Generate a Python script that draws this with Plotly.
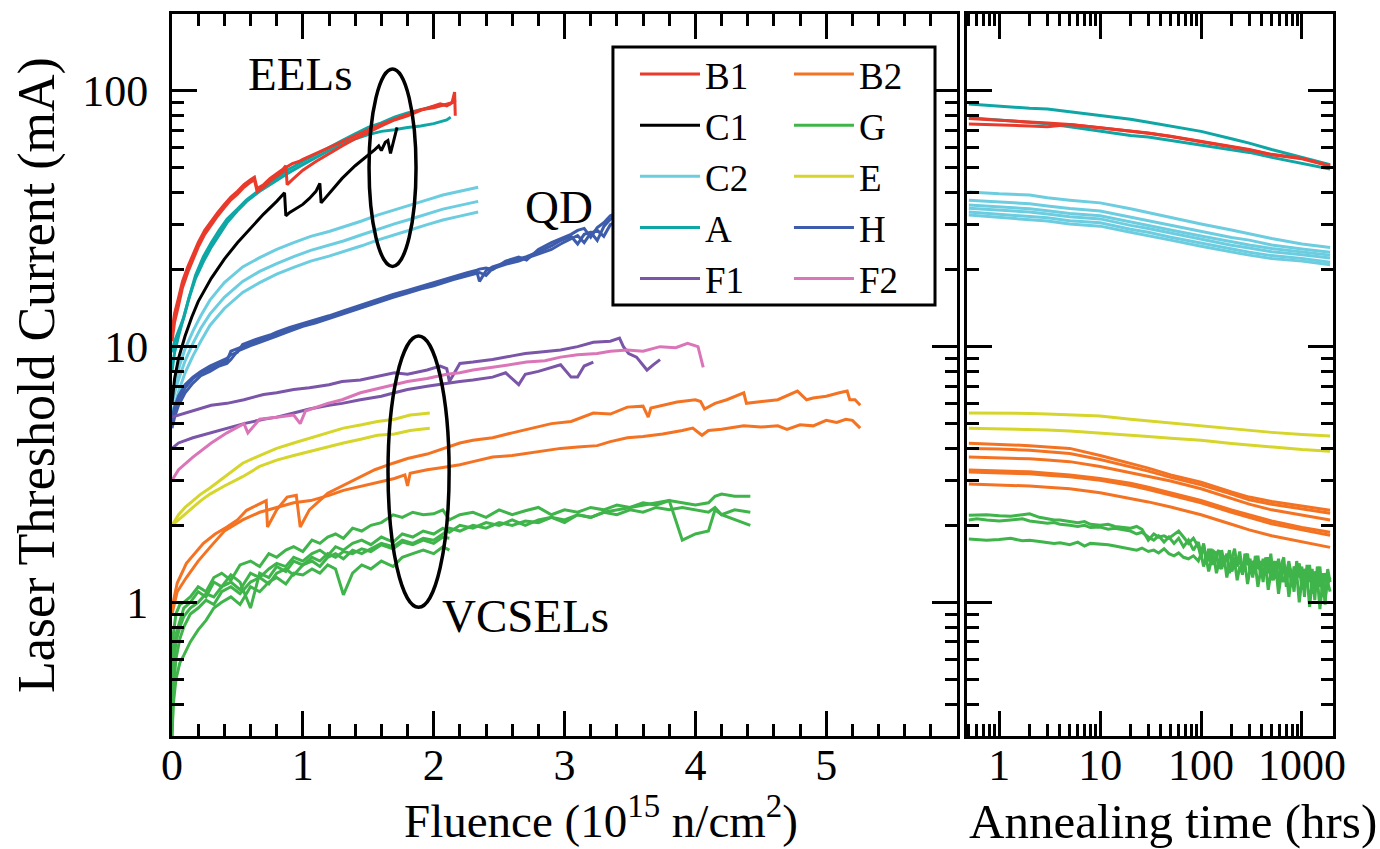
import numpy as np
import plotly.graph_objects as go

# ---------------- Left panel: threshold current vs fluence ----------------
B1_x = [0, 0.02, 0.05, 0.08, 0.12, 0.16, 0.2, 0.25, 0.3, 0.35, 0.4, 0.45, 0.5, 0.55, 0.6, 0.63, 0.65, 0.7, 0.75, 0.8,
        0.85, 0.87, 0.88, 0.92, 0.97, 1.0, 1.1, 1.2, 1.3, 1.4, 1.5, 1.6, 1.7, 1.8, 1.9, 2.0, 2.05, 2.1, 2.14, 2.16, 2.165]
B1_a = [11.5, 13.5, 15.5, 18.0, 20.5, 23.0, 25.5, 28.5, 31.0, 33.5, 36.0, 38.5, 40.5, 43.0, 45.0, 46.0, 41.5, 43.0, 45.5, 47.5,
        49.5, 51.0, 43.0, 45.0, 47.5, 49.0, 53.0, 57.0, 61.0, 65.0, 69.0, 73.0, 77.0, 80.0, 84.0, 87.0, 89.0, 87.5, 90.0, 99.0, 80.0]
B1_b = [10.5, 12.5, 14.5, 17.0, 19.5, 22.0, 24.5, 27.5, 30.0, 32.5, 35.0, 37.5, 39.5, 42.0, 44.0, 45.0, 40.5, 42.0, 44.5, 46.5,
        48.5, 50.0, 50.5, 52.0, 53.0, 54.0, 57.0, 60.0, 63.5, 67.0, 70.5, 74.0, 77.5, 81.0, 84.5, 86.0, 87.5, 88.5, 90.0, 91.0, 92.0]

C1_x = [0, 0.02, 0.05, 0.1, 0.15, 0.2, 0.3, 0.4, 0.5, 0.6, 0.7, 0.8, 0.86, 0.87, 0.9, 1.0, 1.05, 1.1, 1.13, 1.14,
        1.2, 1.3, 1.4, 1.5, 1.55, 1.58, 1.6, 1.63, 1.65, 1.67, 1.7, 1.72]
C1_y = [6.0, 7.5, 9.0, 11.0, 13.0, 15.0, 18.5, 22.0, 25.5, 29.0, 33.0, 37.0, 40.0, 32.5, 33.5, 36.0, 38.0, 40.5, 43.5, 36.5,
        39.5, 45.5, 51.0, 56.0, 59.0, 61.0, 58.5, 63.0, 64.0, 57.0, 66.0, 72.0]

A_x = [0, 0.02, 0.05, 0.09, 0.13, 0.18, 0.24, 0.3, 0.36, 0.42, 0.5, 0.57, 0.67, 0.78, 0.88, 1.0, 1.1, 1.2, 1.3, 1.4,
       1.5, 1.6, 1.7, 1.8, 1.9, 2.0, 2.1, 2.13]
A_a = [9.5, 10.5, 11.5, 13.0, 15.5, 19.0, 22.5, 25.5, 28.5, 31.5, 34.5, 37.5, 41.0, 45.0, 49.0, 53.0, 56.5, 60.5, 64.0, 68.0,
       72.0, 75.0, 79.0, 82.0, 84.5, 87.0, 88.5, 89.0]
A_b = [8.0, 9.5, 11.0, 13.0, 15.5, 18.5, 21.5, 24.5, 27.5, 30.5, 34.0, 37.0, 40.5, 44.0, 47.5, 51.5, 55.0, 58.5, 62.0, 65.0,
       67.5, 69.5, 70.5, 72.0, 73.0, 74.5, 77.0, 79.0]

C2_x = [0, 0.03, 0.06, 0.1, 0.16, 0.22, 0.29, 0.4, 0.54, 0.67, 0.8, 0.93, 1.06, 1.2, 1.31, 1.45, 1.57, 1.7, 1.82, 1.95,
        2.07, 2.2, 2.3, 2.34]
C2_a = [6.5, 7.5, 8.5, 9.8, 11.5, 13.2, 15.2, 17.8, 20.5, 22.3, 24.0, 25.5, 27.0, 28.2, 29.4, 31.0, 32.7, 34.2, 35.8, 37.5,
        39.2, 40.5, 41.5, 42.0]
C2_b = [6.0, 6.9, 7.7, 8.8, 10.3, 11.8, 13.4, 15.6, 18.0, 19.7, 21.1, 22.5, 23.8, 24.9, 25.9, 27.4, 28.8, 30.2, 31.5, 33.0,
        34.5, 35.7, 36.5, 37.0]
C2_c = [5.5, 6.2, 6.9, 7.9, 9.2, 10.5, 12.1, 14.1, 16.3, 17.8, 19.2, 20.4, 21.6, 22.6, 23.5, 24.8, 26.1, 27.3, 28.6, 30.0,
        31.3, 32.4, 33.2, 33.6]

H_x = [0, 0.02, 0.05, 0.1, 0.16, 0.22, 0.29, 0.36, 0.42, 0.45, 0.5, 0.54, 0.6, 0.67, 0.75, 0.8, 0.9, 1.0, 1.1, 1.2,
       1.31, 1.4, 1.5, 1.6, 1.69, 1.8, 1.9, 2.0, 2.07, 2.15, 2.25, 2.33, 2.35, 2.4, 2.45, 2.55, 2.65, 2.71, 2.8, 2.9,
       2.97, 3.05, 3.1, 3.15, 3.2, 3.25, 3.3, 3.35, 3.38]
H_a = [5.0, 5.6, 6.2, 6.9, 7.5, 7.9, 8.2, 8.5, 8.8, 9.6, 9.8, 10.0, 10.3, 10.6, 11.0, 11.2, 11.7, 12.1, 12.6, 13.0,
       13.6, 14.1, 14.7, 15.3, 15.8, 16.4, 17.0, 17.6, 18.0, 18.6, 19.2, 19.6, 18.0, 19.8, 20.5, 21.3, 22.0, 22.5, 23.5, 24.8,
       26.0, 27.0, 25.2, 27.5, 28.0, 26.0, 29.5, 31.5, 32.0]
H_b = [4.8, 5.3, 5.9, 6.6, 7.2, 7.7, 8.0, 8.4, 8.6, 8.9, 9.6, 9.8, 10.1, 10.4, 10.8, 11.0, 11.5, 12.0, 12.4, 12.9,
       13.4, 13.9, 14.5, 15.1, 15.6, 16.2, 16.8, 17.3, 17.8, 18.3, 18.9, 19.3, 19.5, 19.0, 20.2, 21.0, 21.6, 22.2, 23.0, 24.0,
       25.2, 26.3, 27.2, 25.5, 27.8, 28.5, 27.0, 30.0, 30.5]
H_c = [5.3, 5.8, 6.4, 7.1, 7.6, 8.0, 8.4, 8.7, 9.0, 9.3, 9.5, 10.2, 10.5, 10.8, 11.1, 11.4, 11.9, 12.3, 12.8, 13.2,
       13.8, 14.3, 14.9, 15.5, 16.0, 16.6, 17.2, 17.8, 18.2, 18.8, 19.4, 19.9, 20.1, 20.3, 20.0, 21.6, 22.4, 21.8, 24.0, 25.5,
       26.5, 27.5, 28.5, 29.0, 26.8, 29.2, 30.5, 32.5, 33.0]

F1_a_x = [0, 0.1, 0.2, 0.3, 0.42, 0.55, 0.7, 0.8, 0.93, 1.05, 1.2, 1.3, 1.44, 1.55, 1.7, 1.8, 1.95, 2.05, 2.1, 2.12,
          2.2, 2.3, 2.45, 2.6, 2.7, 2.8, 2.97, 3.1, 3.22, 3.35, 3.42, 3.45, 3.49, 3.55, 3.63, 3.68, 3.73]
F1_a_y = [5.3, 5.5, 5.7, 5.9, 6.0, 6.2, 6.5, 6.6, 6.8, 6.9, 7.1, 7.3, 7.4, 7.6, 7.9, 7.8, 8.1, 8.4, 8.2, 7.3,
          8.6, 8.7, 8.9, 9.2, 9.4, 9.5, 9.7, 10.0, 10.4, 10.5, 10.8, 10.0, 9.4, 9.1, 8.1, 8.5, 8.9]
F1_b_x = [0, 0.05, 0.16, 0.3, 0.42, 0.55, 0.7, 0.8, 0.93, 1.05, 1.2, 1.3, 1.44, 1.6, 1.7, 1.8, 1.95, 2.1, 2.2, 2.3,
          2.45, 2.55, 2.65, 2.7, 2.8, 2.97, 3.05, 3.1, 3.15, 3.22]
F1_b_y = [4.0, 4.2, 4.4, 4.6, 4.8, 5.0, 5.2, 5.3, 5.5, 5.7, 5.9, 6.0, 6.2, 6.4, 6.6, 6.8, 7.0, 7.2, 7.3, 7.4,
          7.6, 7.9, 7.1, 7.8, 8.0, 8.5, 7.6, 7.6, 8.4, 8.7]

F2_x = [0, 0.05, 0.16, 0.3, 0.42, 0.55, 0.58, 0.67, 0.8, 0.93, 0.98, 1.02, 1.19, 1.3, 1.44, 1.55, 1.69, 1.8, 1.95, 2.1,
        2.2, 2.3, 2.45, 2.6, 2.71, 2.85, 2.97, 3.1, 3.25, 3.35, 3.48, 3.6, 3.73, 3.85, 3.94, 4.02, 4.06]
F2_y = [3.0, 3.3, 3.7, 4.2, 4.6, 5.0, 4.6, 5.2, 5.3, 5.4, 5.0, 5.6, 6.0, 6.2, 6.6, 6.8, 7.1, 7.3, 7.5, 7.8,
        7.9, 8.1, 8.3, 8.5, 8.7, 8.8, 9.1, 9.3, 9.4, 9.6, 9.7, 9.6, 10.0, 9.9, 10.3, 10.0, 8.3]

E_x = [0, 0.05, 0.1, 0.16, 0.22, 0.29, 0.4, 0.54, 0.67, 0.8, 0.93, 1.06, 1.2, 1.31, 1.45, 1.57, 1.7, 1.82, 1.9, 1.97]
E_a = [2.0, 2.2, 2.35, 2.5, 2.65, 2.8, 3.1, 3.5, 3.75, 4.0, 4.2, 4.4, 4.6, 4.8, 4.95, 5.1, 5.2, 5.4, 5.45, 5.5]
E_b = [2.0, 2.1, 2.2, 2.35, 2.5, 2.65, 2.85, 3.1, 3.4, 3.6, 3.75, 3.9, 4.05, 4.2, 4.35, 4.5, 4.55, 4.7, 4.75, 4.8]

B2_a_x = [0, 0.04, 0.11, 0.24, 0.33, 0.42, 0.5, 0.57, 0.65, 0.72, 0.73, 0.8, 0.88, 0.95, 0.98, 1.05, 1.19, 1.3, 1.44, 1.55,
          1.69, 1.8, 1.95, 2.05, 2.2, 2.3, 2.45, 2.6, 2.75, 2.9, 3.05, 3.22, 3.35, 3.48, 3.6, 3.64, 3.66, 3.75, 3.86, 4.0,
          4.04, 4.07, 4.15, 4.24, 4.37, 4.39, 4.5, 4.63, 4.78, 4.85, 4.9, 5.0, 5.1, 5.16, 5.18, 5.22, 5.26]
B2_a_y = [0.95, 1.19, 1.42, 1.7, 1.85, 1.97, 2.1, 2.29, 2.4, 2.5, 1.97, 2.3, 2.58, 2.62, 1.97, 2.3, 2.67, 2.85, 3.1, 3.3,
          3.5, 3.65, 3.8, 3.95, 4.2, 4.3, 4.4, 4.6, 4.8, 5.0, 5.1, 5.5, 5.45, 5.8, 5.85, 5.3, 5.75, 5.9, 6.07, 6.2,
          6.1, 5.7, 6.0, 6.2, 6.6, 6.0, 6.1, 6.2, 6.7, 6.2, 6.3, 6.4, 6.6, 6.7, 6.2, 6.2, 5.9]
B2_b_x = [0, 0.04, 0.11, 0.2, 0.29, 0.4, 0.54, 0.67, 0.8, 0.93, 1.06, 1.2, 1.31, 1.45, 1.57, 1.7, 1.78, 1.8, 1.82, 1.95,
          2.07, 2.2, 2.3, 2.45, 2.6, 2.75, 2.97, 3.1, 3.25, 3.35, 3.48, 3.6, 3.75, 3.9, 3.98, 4.05, 4.1, 4.2, 4.37, 4.5,
          4.63, 4.7, 4.8, 4.9, 5.0, 5.08, 5.15, 5.2, 5.26]
B2_b_y = [0.9, 1.1, 1.25, 1.45, 1.64, 1.9, 2.1, 2.25, 2.35, 2.45, 2.5, 2.62, 2.74, 2.85, 2.95, 3.05, 3.15, 2.85, 3.2, 3.3,
          3.37, 3.45, 3.55, 3.7, 3.75, 3.85, 4.0, 4.05, 4.1, 4.25, 4.4, 4.45, 4.55, 4.7, 4.8, 4.5, 4.7, 4.75, 4.9, 4.85,
          4.9, 4.75, 4.95, 4.9, 5.15, 5.05, 5.2, 5.15, 4.8]

G_x = [0, 0.01, 0.03, 0.06, 0.09, 0.14, 0.2, 0.26, 0.32, 0.38, 0.45, 0.52, 0.6, 0.67, 0.74, 0.8, 0.87, 0.93, 1.0, 1.07,
       1.13, 1.19, 1.25, 1.31, 1.38, 1.45, 1.52, 1.6, 1.69, 1.76, 1.84, 1.92, 2.0, 2.07, 2.12, 2.2, 2.3, 2.4, 2.5, 2.6,
       2.7, 2.8, 2.9, 3.0, 3.1, 3.2, 3.3, 3.4, 3.5, 3.6, 3.7, 3.8, 3.9, 4.0, 4.1, 4.15, 4.2, 4.3, 4.42]
G_a = [0.5, 0.75, 0.9, 0.98, 1.0, 1.05, 1.15, 1.1, 1.25, 1.3, 1.22, 1.4, 1.45, 1.38, 1.55, 1.5, 1.6, 1.65, 1.58, 1.75,
       1.7, 1.8, 1.85, 1.78, 1.95, 1.9, 2.0, 2.05, 2.2, 2.15, 2.25, 2.2, 2.22, 2.3, 2.1, 2.2, 2.25, 2.15, 2.3, 2.2,
       2.28, 2.35, 2.2, 2.3, 2.25, 2.35, 2.3, 2.4, 2.35, 2.45, 2.4, 2.5, 2.45, 2.4, 2.45, 2.6, 2.65, 2.6, 2.6]
G_b = [0.35, 0.55, 0.7, 0.8, 0.88, 0.95, 1.0, 1.08, 1.05, 1.15, 1.2, 1.12, 1.3, 1.25, 1.35, 1.42, 1.38, 1.5, 1.45, 1.55,
       1.6, 1.52, 1.65, 1.6, 1.7, 1.75, 1.68, 1.8, 1.72, 1.85, 1.8, 1.9, 1.85, 1.95, 1.88, 2.0, 1.95, 2.05, 2.0, 2.1,
       2.0, 2.1, 2.15, 2.05, 2.2, 2.15, 2.25, 2.2, 2.3, 2.25, 2.35, 2.3, 2.35, 2.3, 2.25, 2.35, 2.2, 2.3, 2.25]
G_c = [0.3, 0.45, 0.6, 0.72, 0.8, 0.9, 0.95, 1.02, 0.98, 1.1, 1.15, 1.08, 1.2, 1.25, 1.18, 1.3, 1.35, 1.28, 1.4, 1.45,
       1.38, 1.5, 1.55, 1.48, 1.6, 1.55, 1.62, 1.7, 1.65, 1.75, 1.7, 1.78, 1.75, 1.85, 1.95, 1.9, 2.0, 1.95, 2.05, 2.0,
       2.08, 2.05, 2.15, 2.1, 2.2, 2.15, 2.25, 2.3, 2.35, 2.4, 2.45, 2.5, 1.75, 1.85, 1.9, 2.3, 2.2, 2.1, 2.0]
G_d = [0.3, 0.4, 0.5, 0.58, 0.62, 0.7, 0.78, 0.85, 0.95, 1.0, 1.05, 0.98, 1.15, 1.1, 1.2, 1.25, 1.18, 1.3, 1.28, 1.35,
       1.3, 1.4, 1.35, 1.07, 1.3, 1.4, 1.35, 1.45, 1.38, 1.5, 1.55, 1.6, 1.55, 1.65, 1.6]
G_e = [0.45, 0.62, 0.75, 0.85, 0.95, 1.0, 1.1, 1.05, 1.2, 1.15, 1.28, 1.2, 0.95, 1.3, 1.25, 1.38, 1.32, 1.45, 1.4, 1.5,
       1.45, 1.55, 1.5, 1.58, 1.55, 1.62, 1.58, 1.68, 1.62, 1.72, 1.68, 1.75, 1.7, 1.8, 1.78]

# ---------------- Right panel: threshold current vs annealing time ----------------
T_s = [0.5, 1, 2, 3, 5, 10, 20, 30, 50, 100, 200, 300, 500, 1000, 1900]
A_r1 = [89, 87, 85.5, 85, 83, 80.5, 77.5, 75.5, 73, 69.5, 65, 62.5, 59, 55, 51.5]
A_r2 = [78.5, 77, 75.5, 74.5, 72.5, 69.5, 67, 66, 64, 61.5, 59, 57.5, 55, 52, 49.5]
B1_r1 = [78, 77, 76, 75, 74, 72, 70, 68.5, 66.5, 63.5, 60.5, 59, 56.5, 54.5, 51]
B1_r2 = [74.3, 73.8, 73, 72.5, 74, 71.8, 69.8, 68.3, 66.3, 63.3, 60.3, 58.8, 56.3, 54.3, 50.8]
C2_r1 = [40.3, 39.6, 39.2, 38.2, 37.4, 36.5, 34.6, 33.4, 32.1, 30.2, 28.6, 27.6, 26.5, 25.2, 24.4]
C2_r2 = [37.4, 36.8, 36.2, 35.5, 34.7, 33.9, 32.1, 31.1, 29.9, 28.2, 26.7, 26.1, 25.0, 24.1, 23.4]
C2_r3 = [35.8, 35.2, 34.6, 34.0, 33.2, 32.5, 30.7, 29.8, 28.6, 27.1, 25.7, 25.0, 24.2, 23.5, 22.8]
C2_r4 = [34.8, 34.2, 33.6, 33.0, 32.2, 31.6, 29.8, 29.0, 27.8, 26.3, 24.9, 24.3, 23.5, 22.9, 22.2]
C2_r5 = [33.6, 33.0, 32.4, 31.9, 31.1, 30.5, 28.8, 28.0, 26.8, 25.4, 24.1, 23.4, 22.7, 22.1, 21.4]
C2_r6 = [32.7, 32.1, 31.5, 31.0, 30.2, 29.6, 28.0, 27.2, 26.1, 24.7, 23.4, 22.8, 22.1, 21.6, 20.9]
E_r1 = [5.5, 5.5, 5.48, 5.45, 5.42, 5.35, 5.2, 5.12, 5.02, 4.9, 4.78, 4.7, 4.62, 4.53, 4.47]
E_r2 = [4.8, 4.78, 4.75, 4.72, 4.68, 4.6, 4.5, 4.45, 4.38, 4.3, 4.18, 4.12, 4.05, 3.96, 3.9]
B2_r1 = [4.19, 4.15, 4.1, 4.05, 4.0, 3.75, 3.5, 3.35, 3.15, 2.95, 2.7, 2.58, 2.48, 2.38, 2.29]
B2_r2 = [4.0, 3.98, 3.93, 3.88, 3.82, 3.62, 3.4, 3.26, 3.08, 2.88, 2.65, 2.52, 2.42, 2.32, 2.23]
B2_r3 = [3.7, 3.68, 3.64, 3.6, 3.55, 3.4, 3.22, 3.12, 2.98, 2.78, 2.55, 2.42, 2.3, 2.2, 2.1]
B2_r4 = [3.29, 3.27, 3.24, 3.2, 3.15, 3.05, 2.92, 2.82, 2.68, 2.5, 2.3, 2.2, 2.08, 1.96, 1.88]
B2_r5 = [3.23, 3.21, 3.18, 3.14, 3.1, 3.0, 2.86, 2.76, 2.62, 2.45, 2.25, 2.15, 2.03, 1.92, 1.83]
B2_r6 = [2.9, 2.88, 2.85, 2.82, 2.78, 2.68, 2.55, 2.47, 2.36, 2.2, 2.02, 1.92, 1.82, 1.72, 1.64]

T_g = [0.5, 0.6, 0.75, 1, 1.3, 1.7, 2, 2.5, 3, 3.5, 4, 5, 6, 7, 8, 10, 12, 14, 17, 20,
       23, 26, 30, 34, 38, 43, 48, 54, 60, 67, 75, 84,
       94, 100, 106, 112, 119, 126, 134, 142, 150, 160, 170, 180, 191, 203, 215, 228, 242, 257, 272, 289,
       306, 325, 345, 366, 388, 412, 437, 463, 491, 521, 553, 586, 622, 660, 700, 742, 787, 835, 886, 940,
       997, 1058, 1122, 1190, 1262, 1339, 1420, 1506, 1598, 1695, 1798, 1900]
G_r1 = [2.19, 2.2, 2.2, 2.18, 2.17, 2.2, 2.22, 2.15, 2.12, 2.1, 2.1, 2.08, 2.05, 2.07, 2.02, 2.0, 2.02, 1.98, 1.96, 1.95,
        1.98, 1.93, 1.75, 1.85, 1.8, 1.82, 1.78, 1.85, 1.9, 1.8, 1.7, 1.78,
        1.65, 1.5, 1.7, 1.45, 1.62, 1.4, 1.58, 1.55, 1.35, 1.6, 1.42, 1.55, 1.3, 1.5, 1.62, 1.38, 1.5, 1.28, 1.55, 1.4,
        1.48, 1.25, 1.52, 1.35, 1.45, 1.2, 1.5, 1.3, 1.55, 1.25, 1.45, 1.18, 1.4, 1.5, 1.15, 1.42, 1.3, 1.1, 1.45, 1.25,
        1.38, 1.05, 1.4, 1.2, 1.35, 1.02, 1.38, 1.15, 1.3, 0.98, 1.35, 1.2]
G_r2 = [2.1, 2.12, 2.1, 2.08, 2.1, 2.12, 2.08, 2.06, 2.04, 2.05, 2.02, 2.0, 1.98, 2.0, 1.96, 1.97, 1.93, 1.95, 1.92, 1.9,
        1.85, 1.88, 1.8, 1.75, 1.82, 1.72, 1.8, 1.7, 1.78, 1.65, 1.75, 1.6,
        1.72, 1.55, 1.68, 1.5, 1.45, 1.62, 1.4, 1.55, 1.6, 1.38, 1.52, 1.45, 1.6, 1.35, 1.5, 1.42, 1.58, 1.32, 1.48, 1.55,
        1.3, 1.45, 1.4, 1.52, 1.28, 1.48, 1.35, 1.5, 1.22, 1.45, 1.32, 1.48, 1.2, 1.4, 1.3, 1.45, 1.15, 1.38, 1.28, 1.42,
        1.12, 1.35, 1.25, 1.4, 1.08, 1.32, 1.22, 1.38, 1.05, 1.3, 1.18, 1.25]
G_r3 = [1.77, 1.76, 1.75, 1.76, 1.78, 1.74, 1.75, 1.73, 1.72, 1.7, 1.71, 1.68, 1.72, 1.66, 1.7, 1.69, 1.68, 1.66, 1.64, 1.62,
        1.6, 1.63, 1.58, 1.6, 1.56, 1.62, 1.55, 1.52, 1.56, 1.5, 1.48, 1.52,
        1.45, 1.55, 1.38, 1.5, 1.32, 1.45, 1.52, 1.3, 1.42, 1.35, 1.48, 1.25, 1.4, 1.32, 1.45, 1.22, 1.38, 1.3, 1.42, 1.18,
        1.35, 1.28, 1.4, 1.15, 1.32, 1.25, 1.38, 1.12, 1.3, 1.22, 1.35, 1.08, 1.28, 1.2, 1.32, 1.05, 1.25, 1.15, 1.3, 1.0,
        1.22, 1.12, 1.28, 0.96, 1.2, 1.1, 1.25, 0.94, 1.18, 1.05, 1.2, 1.1]

# ---------------- Ticks / labels ----------------
Y_TICKS = [1, 10, 100]
Y_TICK_TEXT = ["1", "10", "100"]
Y_MINOR = [0.3, 0.4, 0.5, 0.6, 0.7, 0.8, 0.9, 2, 3, 4, 5, 6, 7, 8, 9, 20, 30, 40, 50, 60, 70, 80, 90, 200]
XL_TICKS = [0, 1, 2, 3, 4, 5]
XL_TICK_TEXT = ["0", "1", "2", "3", "4", "5"]
XR_TICKS = [1, 10, 100, 1000]
XR_TICK_TEXT = ["1", "10", "100", "1000"]
XR_MINOR = [0.5, 0.6, 0.7, 0.8, 0.9, 2, 3, 4, 5, 6, 7, 8, 9, 20, 30, 40, 50, 60, 70, 80, 90,
            200, 300, 400, 500, 600, 700, 800, 900, 2000]

COLORS = {"B1": "#E93A2B", "C1": "#000000", "C2": "#6CCDE0", "A": "#0FA6A6", "F1": "#7A55A8",
          "B2": "#F47322", "G": "#3FB44A", "E": "#D6D52B", "H": "#3D5CAB", "F2": "#DA75B8"}
LEGEND_OF = {"B1": ("legend", 1), "C1": ("legend", 2), "C2": ("legend", 3), "A": ("legend", 4), "F1": ("legend", 5),
             "B2": ("legend2", 1), "G": ("legend2", 2), "E": ("legend2", 3), "H": ("legend2", 4), "F2": ("legend2", 5)}

fig = go.Figure()
shown = set()


def add(name, x, y, panel):
    lg, rank = LEGEND_OF[name]
    show = name not in shown
    shown.add(name)
    fig.add_trace(go.Scatter(
        x=x, y=y, mode="lines", name=name, legendgroup=name, showlegend=show,
        legend=lg, legendrank=rank, hoverinfo="skip",
        line=dict(color=COLORS[name], width=3),
        xaxis="x" if panel == 0 else "x2", yaxis="y" if panel == 0 else "y2"))


# left panel
for yy in (C2_a, C2_b, C2_c):
    add("C2", C2_x, yy, 0)
for yy in (A_a, A_b):
    add("A", A_x, yy, 0)
for yy in (B1_a, B1_b):
    add("B1", B1_x, yy, 0)
add("C1", C1_x, C1_y, 0)
for yy in (H_a, H_b, H_c):
    add("H", H_x, yy, 0)
add("F1", F1_a_x, F1_a_y, 0)
add("F1", F1_b_x, F1_b_y, 0)
add("F2", F2_x, F2_y, 0)
for yy in (E_a, E_b):
    add("E", E_x, yy, 0)
add("B2", B2_a_x, B2_a_y, 0)
add("B2", B2_b_x, B2_b_y, 0)
for yy in (G_a, G_b, G_c):
    add("G", G_x, yy, 0)
for yy in (G_d, G_e):
    add("G", G_x[:len(yy)], yy, 0)

# right panel
for yy in (C2_r1, C2_r2, C2_r3, C2_r4, C2_r5, C2_r6):
    add("C2", T_s, yy, 1)
for yy in (A_r1, A_r2):
    add("A", T_s, yy, 1)
for yy in (B1_r1, B1_r2):
    add("B1", T_s, yy, 1)
for yy in (E_r1, E_r2):
    add("E", T_s, yy, 1)
for yy in (B2_r1, B2_r2, B2_r3, B2_r4, B2_r5, B2_r6):
    add("B2", T_s, yy, 1)
for yy in (G_r1, G_r2, G_r3):
    add("G", T_g, yy, 1)

FONT = "Liberation Serif"
axis_common = dict(ticks="inside", ticklen=25, tickwidth=3, tickcolor="black",
                   showline=True, linewidth=3, linecolor="black", mirror="allticks",
                   showgrid=False, zeroline=False, automargin=False,
                   tickfont=dict(family=FONT, size=44, color="black"))
minor_common = dict(ticks="inside", ticklen=12, tickwidth=3, tickcolor="black", showgrid=False)
legend_font = dict(family=FONT, size=37, color="black")

fig.update_layout(
    width=1380, height=849,
    margin=dict(l=172, r=47, t=14, b=113),
    paper_bgcolor="white", plot_bgcolor="white",
    font=dict(family=FONT, size=44, color="black"),
    xaxis=dict(domain=[0, 0.6762], range=[0, 6], tickmode="array", tickvals=XL_TICKS, ticktext=XL_TICK_TEXT,
               minor=dict(dtick=0.2, tick0=0, **minor_common), anchor="y", ticklabelstandoff=-12,
               **axis_common),
    yaxis=dict(type="log", range=[np.log10(0.3), np.log10(200)], tickmode="array", tickvals=Y_TICKS,
               ticktext=Y_TICK_TEXT, minor=dict(tickmode="array", tickvals=Y_MINOR, **minor_common), anchor="x",
               ticklabelstandoff=12, **axis_common),
    xaxis2=dict(type="log", domain=[0.6848, 1], range=[np.log10(0.48), np.log10(2030)], tickmode="array",
                tickvals=XR_TICKS, ticktext=XR_TICK_TEXT, anchor="y2", ticklabelstandoff=-12,
                minor=dict(tickmode="array", tickvals=XR_MINOR, **minor_common), **axis_common),
    yaxis2=dict(type="log", range=[np.log10(0.3), np.log10(200)], matches="y", anchor="x2", showticklabels=False,
                tickmode="array", tickvals=Y_TICKS,
                minor=dict(tickmode="array", tickvals=Y_MINOR, **minor_common), **axis_common),
    legend=dict(x=0.3988, y=0.9591, xanchor="left", yanchor="top", bgcolor="rgba(0,0,0,0)",
                borderwidth=0, font=legend_font, tracegroupgap=0, itemwidth=60),
    legend2=dict(x=0.5314, y=0.9591, xanchor="left", yanchor="top", bgcolor="rgba(0,0,0,0)",
                 borderwidth=0, font=legend_font, tracegroupgap=0, itemwidth=60),
    showlegend=True,
)

# legend frame (white box with black border behind both legend columns)
fig.add_shape(type="rect", xref="paper", yref="paper", x0=0.3798, x1=0.6572, y0=0.597, y1=0.9543,
              line=dict(color="black", width=3), fillcolor="white", layer="above")

# Group outlines (ellipses) and labels
fig.add_shape(type="circle", xref="x", yref="y", x0=1.506, x1=1.865, y0=20.6, y1=122,
              line=dict(color="black", width=3.5))
fig.add_shape(type="circle", xref="x", yref="y", x0=1.651, x1=2.118, y0=0.956, y1=11.0,
              line=dict(color="black", width=3.5))
for txt, xx, yy in (("EELs", 0.975, 2.0665), ("QD", 2.959, 1.546), ("VCSELs", 2.699, -0.055)):
    fig.add_annotation(text=txt, x=xx, y=yy, xref="x", yref="y", showarrow=False,
                       font=dict(family=FONT, size=47, color="black"), xanchor="center", yanchor="middle")

# Axis titles
fig.add_annotation(text="Fluence (10<sup>15</sup> n/cm<sup>2</sup>)", x=0.3695, y=-0.1125, xref="paper", yref="paper",
                   showarrow=False, font=dict(family=FONT, size=47, color="black"), xanchor="center", yanchor="middle")
fig.add_annotation(text="Annealing time (hrs)", x=0.8622, y=-0.118, xref="paper", yref="paper",
                   showarrow=False, font=dict(family=FONT, size=49, color="black"), xanchor="center", yanchor="middle")
fig.add_annotation(text="Laser Threshold Current (mA)", x=-0.1163, y=0.50, xref="paper", yref="paper",
                   textangle=-90, showarrow=False, font=dict(family=FONT, size=52, color="black"),
                   xanchor="center", yanchor="middle")

fig.write_html("out.html", config={"displayModeBar": False},
               post_script="document.body.style.margin='0';document.body.style.overflow='hidden';")
